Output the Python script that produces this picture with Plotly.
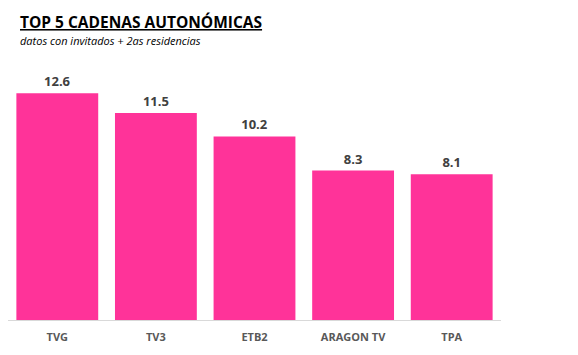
import plotly.graph_objects as go

categories = ["TVG", "TV3", "ETB2", "ARAGON TV", "TPA"]
values = [12.6, 11.5, 10.2, 8.3, 8.1]
labels = ["12.6", "11.5", "10.2", "8.3", "8.1"]

fig = go.Figure()
fig.add_trace(go.Bar(
    x=categories, y=values,
    marker=dict(color="#FF3399", line=dict(width=0)),
    text=labels, textposition="outside",
    textfont=dict(family="Open Sans", size=13, color="#404040", weight="bold"),
    cliponaxis=False, width=0.83,
))

W, H = 578, 355
# page body has an 8px margin; positions below are in figure pixels
plot_top, plot_bottom, plot_left, plot_right = 52, 312, 0, 493
ymax = (plot_bottom - plot_top) / 18.0

def px_x(x):
    return (x - plot_left) / (plot_right - plot_left)

def px_y(y):
    return (plot_bottom - y) / (plot_bottom - plot_top)

fig.update_layout(
    width=W, height=H,
    margin=dict(l=plot_left, r=W - plot_right, t=plot_top, b=H - plot_bottom, autoexpand=False),
    paper_bgcolor="white", plot_bgcolor="white",
    showlegend=False,
    xaxis=dict(showline=True, linecolor="#D9D9D9", linewidth=1,
               tickfont=dict(family="Open Sans", size=11, color="#595959", weight="bold"),
               ticks="", showgrid=False, automargin=False, ticklabelstandoff=7),
    yaxis=dict(visible=False, range=[0, ymax], showgrid=False, zeroline=False),
    annotations=[
        dict(text="<b><u>TOP 5 CADENAS AUTONÓMICAS</u></b>", x=px_x(11), y=px_y(2),
             xref="paper", yref="paper", xanchor="left", yanchor="top", showarrow=False,
             borderpad=0,
             font=dict(family="Open Sans", size=15.5, color="black")),
        dict(text="<i>datos con invitados + 2as residencias</i>", x=px_x(11), y=px_y(24),
             xref="paper", yref="paper", xanchor="left", yanchor="top", showarrow=False,
             borderpad=0,
             font=dict(family="Open Sans", size=11, color="black")),
    ],
)
fig.write_html("out.html")
